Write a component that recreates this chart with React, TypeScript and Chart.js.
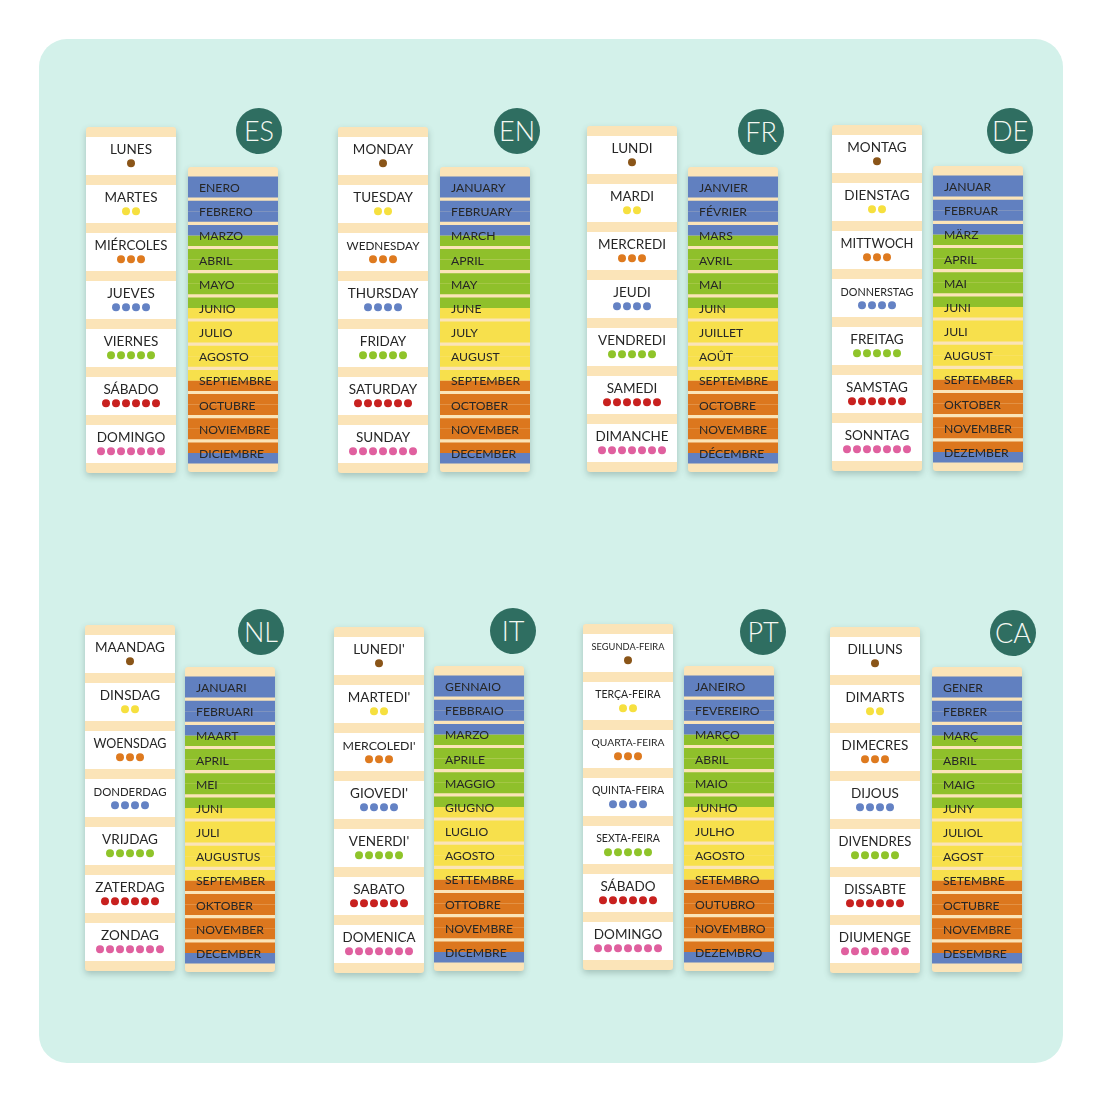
import React, { useEffect, useRef } from "react";
import { Chart, registerables } from "chart.js";

Chart.register(...registerables);

const esDays = ["LUNES", "MARTES", "MIÉRCOLES", "JUEVES", "VIERNES", "SÁBADO", "DOMINGO"];
const enDays = ["MONDAY", "TUESDAY", "WEDNESDAY", "THURSDAY", "FRIDAY", "SATURDAY", "SUNDAY"];
const frDays = ["LUNDI", "MARDI", "MERCREDI", "JEUDI", "VENDREDI", "SAMEDI", "DIMANCHE"];
const deDays = ["MONTAG", "DIENSTAG", "MITTWOCH", "DONNERSTAG", "FREITAG", "SAMSTAG", "SONNTAG"];
const nlDays = ["MAANDAG", "DINSDAG", "WOENSDAG", "DONDERDAG", "VRIJDAG", "ZATERDAG", "ZONDAG"];
const itDays = ["LUNEDI'", "MARTEDI'", "MERCOLEDI'", "GIOVEDI'", "VENERDI'", "SABATO", "DOMENICA"];
const ptDays = ["SEGUNDA-FEIRA", "TERÇA-FEIRA", "QUARTA-FEIRA", "QUINTA-FEIRA", "SEXTA-FEIRA", "SÁBADO", "DOMINGO"];
const caDays = ["DILLUNS", "DIMARTS", "DIMECRES", "DIJOUS", "DIVENDRES", "DISSABTE", "DIUMENGE"];

const esMonths = ["ENERO", "FEBRERO", "MARZO", "ABRIL", "MAYO", "JUNIO", "JULIO", "AGOSTO", "SEPTIEMBRE", "OCTUBRE", "NOVIEMBRE", "DICIEMBRE"];
const enMonths = ["JANUARY", "FEBRUARY", "MARCH", "APRIL", "MAY", "JUNE", "JULY", "AUGUST", "SEPTEMBER", "OCTOBER", "NOVEMBER", "DECEMBER"];
const frMonths = ["JANVIER", "FÉVRIER", "MARS", "AVRIL", "MAI", "JUIN", "JUILLET", "AOÛT", "SEPTEMBRE", "OCTOBRE", "NOVEMBRE", "DÉCEMBRE"];
const deMonths = ["JANUAR", "FEBRUAR", "MÄRZ", "APRIL", "MAI", "JUNI", "JULI", "AUGUST", "SEPTEMBER", "OKTOBER", "NOVEMBER", "DEZEMBER"];
const nlMonths = ["JANUARI", "FEBRUARI", "MAART", "APRIL", "MEI", "JUNI", "JULI", "AUGUSTUS", "SEPTEMBER", "OKTOBER", "NOVEMBER", "DECEMBER"];
const itMonths = ["GENNAIO", "FEBBRAIO", "MARZO", "APRILE", "MAGGIO", "GIUGNO", "LUGLIO", "AGOSTO", "SETTEMBRE", "OTTOBRE", "NOVEMBRE", "DICEMBRE"];
const ptMonths = ["JANEIRO", "FEVEREIRO", "MARÇO", "ABRIL", "MAIO", "JUNHO", "JULHO", "AGOSTO", "SETEMBRO", "OUTUBRO", "NOVEMBRO", "DEZEMBRO"];
const caMonths = ["GENER", "FEBRER", "MARÇ", "ABRIL", "MAIG", "JUNY", "JULIOL", "AGOST", "SETEMBRE", "OCTUBRE", "NOVEMBRE", "DESEMBRE"];

// how many dots each weekday gets
const dayDots = [1, 2, 3, 4, 5, 6, 7];
const dayDotColors = ["#8a5518", "#f6e03f", "#de7a1f", "#6482c4", "#8fc42a", "#c8211f", "#e0609f"];

// every month row is split in an upper and a lower half, the season changes inside a row
const seasonColors: Record<string, string> = { winter: "#6180c0", spring: "#8fc02b", summer: "#f7e04c", autumn: "#dc771e" };
const upperSeason = ["winter", "winter", "winter", "spring", "spring", "spring", "summer", "summer", "summer", "autumn", "autumn", "autumn"];
const lowerSeason = ["winter", "winter", "spring", "spring", "spring", "summer", "summer", "summer", "autumn", "autumn", "autumn", "winter"];

const CARD_W = 90;
const DAY_H = 346;
const MONTH_H = 305;
const CREAM = "#fbe4b8";
const INK = "#262626";
const FONT = "Lato";

// card placement, separate from the data
const languages = [
  { code: "ES", days: esDays, months: esMonths, dayX: 86, dayY: 127, monthX: 188, monthY: 167, badgeX: 259, badgeY: 131 },
  { code: "EN", days: enDays, months: enMonths, dayX: 338, dayY: 127, monthX: 440, monthY: 167, badgeX: 517, badgeY: 131 },
  { code: "FR", days: frDays, months: frMonths, dayX: 587, dayY: 126, monthX: 688, monthY: 167, badgeX: 761, badgeY: 132 },
  { code: "DE", days: deDays, months: deMonths, dayX: 832, dayY: 125, monthX: 933, monthY: 166, badgeX: 1010, badgeY: 131 },
  { code: "NL", days: nlDays, months: nlMonths, dayX: 85, dayY: 625, monthX: 185, monthY: 667, badgeX: 261, badgeY: 632 },
  { code: "IT", days: itDays, months: itMonths, dayX: 334, dayY: 627, monthX: 434, monthY: 666, badgeX: 513, badgeY: 631 },
  { code: "PT", days: ptDays, months: ptMonths, dayX: 583, dayY: 624, monthX: 684, monthY: 666, badgeX: 763, badgeY: 632 },
  { code: "CA", days: caDays, months: caMonths, dayX: 830, dayY: 627, monthX: 932, monthY: 667, badgeX: 1013, badgeY: 633 },
];

const canvasStyle = (x: number, y: number, h: number): React.CSSProperties => ({
  position: "absolute",
  left: x,
  top: y,
  width: CARD_W,
  height: h,
  background: CREAM,
  borderRadius: 3,
  boxShadow: "0 3px 6px rgba(60,90,80,0.3)",
});

const dayLabels = {
  id: "dayLabels",
  afterDatasetsDraw(chart: any) {
    const { ctx, scales } = chart;
    const names: string[] = chart.data.labels;
    ctx.save();
    ctx.fillStyle = INK;
    ctx.textAlign = "center";
    ctx.textBaseline = "middle";
    names.forEach((name, i) => {
      // long names are set smaller so they stay inside the card
      let size = name.includes("-FEIRA") ? 10.5 : 13.5;
      ctx.font = `${size}px ${FONT}`;
      const w = ctx.measureText(name).width;
      if (w > 73) {
        size = (size * 73) / w;
        ctx.font = `${size}px ${FONT}`;
      }
      ctx.fillText(name, scales.x.getPixelForValue(4.5), scales.yDots.getPixelForValue(i - 0.125));
    });
    ctx.restore();
  },
};

const DayCard: React.FC<{ days: string[]; x: number; y: number }> = ({ days, x, y }) => {
  const canvasRef = useRef<HTMLCanvasElement>(null);

  useEffect(() => {
    if (!canvasRef.current) return;
    const dots: { x: number; y: number }[] = [];
    const colors: string[] = [];
    dayDots.forEach((count, i) => {
      for (let k = 0; k < count; k++) {
        dots.push({ x: 4.5 - (count - 1) / 2 + k, y: i + 0.15 });
        colors.push(dayDotColors[i]);
      }
    });
    const chart = new Chart(canvasRef.current, {
      type: "scatter",
      data: {
        labels: days,
        datasets: [
          {
            data: dots,
            xAxisID: "x",
            yAxisID: "yDots",
            pointRadius: 4,
            pointBorderWidth: 0,
            pointBackgroundColor: colors,
            order: 0,
          },
          {
            type: "bar",
            indexAxis: "y",
            data: days.map(() => 9),
            xAxisID: "x",
            yAxisID: "y",
            backgroundColor: "#ffffff",
            barPercentage: 1,
            categoryPercentage: 38 / 48,
            order: 1,
          },
        ] as any,
      },
      options: {
        responsive: false,
        animation: false,
        layout: { autoPadding: false, padding: { top: 5, bottom: 5 } },
        plugins: { legend: { display: false }, tooltip: { enabled: false } },
        scales: {
          x: { type: "linear", display: false, min: 0, max: 9 },
          y: { type: "category", display: false, offset: true },
          yDots: { type: "linear", display: false, min: -0.5, max: 6.5, reverse: true },
        },
      },
      plugins: [dayLabels],
    });
    return () => chart.destroy();
  }, [days]);

  return <canvas ref={canvasRef} width={CARD_W} height={DAY_H} style={canvasStyle(x, y, DAY_H)} />;
};

const MonthCard: React.FC<{ months: string[]; x: number; y: number }> = ({ months, x, y }) => {
  const canvasRef = useRef<HTMLCanvasElement>(null);

  useEffect(() => {
    if (!canvasRef.current) return;
    const chart = new Chart(canvasRef.current, {
      type: "bar",
      data: {
        labels: months,
        datasets: [
          { data: months.map(() => 1), backgroundColor: upperSeason.map((s) => seasonColors[s]) },
          { data: months.map(() => 1), backgroundColor: lowerSeason.map((s) => seasonColors[s]) },
        ],
      },
      options: {
        indexAxis: "y",
        responsive: false,
        animation: false,
        layout: { autoPadding: false, padding: { top: 8, bottom: 7 } },
        plugins: { legend: { display: false }, tooltip: { enabled: false } },
        datasets: { bar: { barPercentage: 1, categoryPercentage: 0.87 } },
        scales: {
          x: { display: false, min: 0, max: 1 },
          y: {
            border: { display: false },
            grid: { display: false, drawTicks: false },
            afterFit: (scale: any) => {
              scale.width = 0;
              scale.paddingTop = 0;
              scale.paddingBottom = 0;
            },
            ticks: {
              mirror: true,
              padding: 11,
              z: 1,
              autoSkip: false,
              maxRotation: 0,
              labelOffset: 1,
              color: INK,
              font: { family: FONT, size: 12.2 },
            },
          },
        },
      } as any,
    });
    return () => chart.destroy();
  }, [months]);

  return <canvas ref={canvasRef} width={CARD_W} height={MONTH_H} style={canvasStyle(x, y, MONTH_H)} />;
};

const App: React.FC = () => (
  <div style={{ position: "absolute", left: 0, top: 0, width: 1100, height: 1100, background: "#fff", overflow: "hidden" }}>
    <div style={{ position: "absolute", left: 39, top: 39, width: 1024, height: 1024, borderRadius: 28, background: "#d3f1ea" }} />
    {languages.map((l) => (
      <React.Fragment key={l.code}>
        <DayCard days={l.days} x={l.dayX} y={l.dayY} />
        <MonthCard months={l.months} x={l.monthX} y={l.monthY} />
        <div
          style={{
            position: "absolute",
            left: l.badgeX - 23,
            top: l.badgeY - 23,
            width: 46,
            height: 46,
            borderRadius: "50%",
            background: "#2f6e61",
            color: "#f4f8f2",
            font: `300 27px ${FONT}`,
            lineHeight: "46px",
            textAlign: "center",
          }}
        >
          {l.code}
        </div>
      </React.Fragment>
    ))}
  </div>
);

export default App;
